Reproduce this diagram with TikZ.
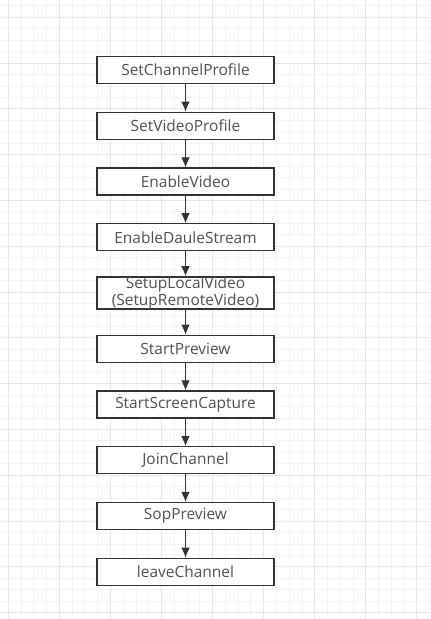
\documentclass[tikz,border=0pt]{standalone}
\usepackage{fontspec}
\setmainfont{Open Sans}
\usetikzlibrary{arrows.meta}
\definecolor{boxline}{HTML}{333333}
\definecolor{txtgray}{HTML}{505050}
\definecolor{gridminor}{HTML}{F3F3F3}
\definecolor{gridmajor}{HTML}{E6E6E6}
\tikzset{
    cell/.style = {rectangle, draw=boxline, line width=1pt, fill=white, minimum width=132.75pt, minimum height=20.25pt, inner sep=0pt, text=txtgray, align=center, font=\fontsize{11.6}{8.4}\selectfont},
    edgen/.style = {-{Latex[length=7.5pt,width=6.5pt]}, line width=0.8pt, boxline},
    gridn/.style = {draw=gridminor, line width=0.75pt},
    gridm/.style = {draw=gridmajor, line width=0.75pt}
}
\begin{document}
\begin{tikzpicture}[x=0.75pt,y=-0.75pt]
\path[use as bounding box, fill=white] (0,0) rectangle (430,619);
% background grid
\foreach \i in {0,...,33} \draw[gridn] (8.3+12.77*\i,0) -- (8.3+12.77*\i,619);
\foreach \j in {0,...,53} \draw[gridn] (0,5.85+11.45*\j) -- (430,5.85+11.45*\j);
\foreach \i in {0,...,8} \draw[gridm] (8.3+51.08*\i,0) -- (8.3+51.08*\i,619);
\foreach \j in {0,...,13} \draw[gridm] (0,17.3+45.8*\j) -- (430,17.3+45.8*\j);
%
\node[cell] at (185.5,70) (profile) {SetChannelProfile};
\node[cell] at (185.5,125.75) (video) {SetVideoProfile};
\node[cell] at (185.5,181.5) (enable) {EnableVideo};
\node[cell] at (185.5,237.25) (dual) {EnableDauleStream};
\node[cell] at (185.5,293) (setup) {SetupLocalVideo\\(SetupRemoteVideo)};
\node[cell] at (185.5,348.75) (preview) {StartPreview};
\node[cell] at (185.5,404.5) (capture) {StartScreenCapture};
\node[cell] at (185.5,460.25) (join) {JoinChannel};
\node[cell] at (185.5,516) (stop) {SopPreview};
\node[cell] at (185.5,571.75) (leave) {leaveChannel};
%
\draw[edgen] (profile) edge (video);
\draw[edgen] (video) edge (enable);
\draw[edgen] (enable) edge (dual);
\draw[edgen] (dual) edge (setup);
\draw[edgen] (setup) edge (preview);
\draw[edgen] (preview) edge (capture);
\draw[edgen] (capture) edge (join);
\draw[edgen] (join) edge (stop);
\draw[edgen] (stop) edge (leave);

\end{tikzpicture}
\end{document}
